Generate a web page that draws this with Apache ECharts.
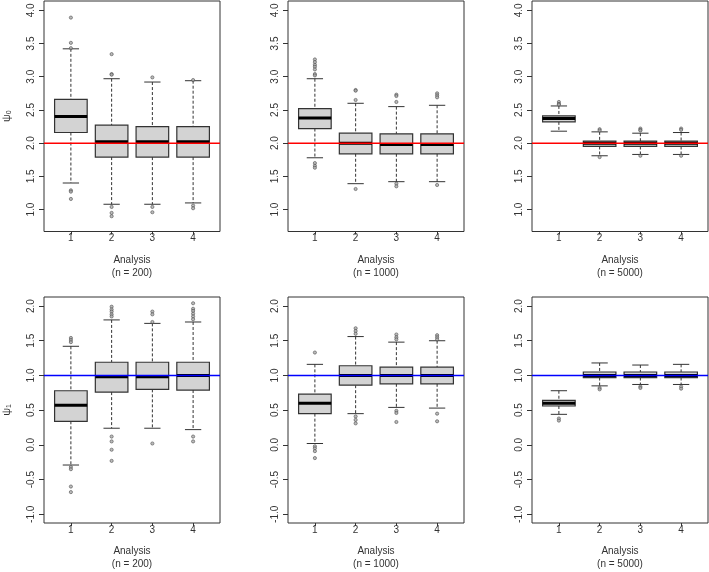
<!DOCTYPE html>
<html><head><meta charset="utf-8">
<script src="https://cdn.jsdelivr.net/npm/echarts@6/dist/echarts.min.js"></script>
<style>html,body{margin:0;padding:0;background:#fff}#c{width:709px;height:572px}</style>
</head><body><div id="c"></div>
<script>
const analyses = [1, 2, 3, 4];
const sampleSizes = [200, 1000, 5000];
const psi0Ticks = [1.0, 1.5, 2.0, 2.5, 3.0, 3.5, 4.0];
const psi1Ticks = [-1.0, -0.5, 0.0, 0.5, 1.0, 1.5, 2.0];
const psi0True = 2;
const psi1True = 1;

// each box: [lower whisker, Q1, median, Q3, upper whisker]
const psi0_n200 = [[1.40, 2.16, 2.40, 2.66, 3.42], [1.08, 1.79, 2.02, 2.27, 2.97], [1.08, 1.79, 2.02, 2.25, 2.92], [1.10, 1.79, 2.02, 2.25, 2.94]];
const psi0_n200_out = [[3.89, 3.51, 3.43, 1.29, 1.27, 1.16], [3.34, 3.04, 3.03, 1.04, 0.95, 0.90], [2.99, 1.04, 0.96], [2.95, 1.06, 1.02]];
const psi0_n1000 = [[1.78, 2.22, 2.38, 2.52, 2.97], [1.39, 1.84, 2.00, 2.15, 2.60], [1.42, 1.84, 1.98, 2.14, 2.55], [1.42, 1.84, 1.98, 2.14, 2.57]];
const psi0_n1000_out = [[3.26, 3.22, 3.18, 3.15, 3.11, 3.04, 3.02, 1.70, 1.66, 1.63], [2.80, 2.79, 2.65, 1.31], [2.73, 2.71, 2.62, 1.39, 1.35], [2.75, 2.72, 2.69, 1.37]];
const psi0_n5000 = [[2.18, 2.32, 2.37, 2.41, 2.56], [1.81, 1.95, 2.00, 2.03, 2.17], [1.83, 1.95, 2.00, 2.03, 2.15], [1.83, 1.95, 2.00, 2.03, 2.16]];
const psi0_n5000_out = [[2.62, 2.59, 2.58], [2.21, 2.19, 1.79], [2.22, 2.20, 2.19, 1.81], [2.22, 2.20, 1.81]];

const psi1_n200 = [[-0.29, 0.34, 0.57, 0.78, 1.42], [0.24, 0.76, 0.98, 1.19, 1.80], [0.24, 0.80, 0.98, 1.19, 1.75], [0.22, 0.79, 1.00, 1.19, 1.77]];
const psi1_n200_out = [[1.54, 1.51, 1.48, -0.32, -0.35, -0.60, -0.68], [1.99, 1.95, 1.92, 1.88, 1.85, 0.12, 0.05, -0.07, -0.23], [1.92, 1.88, 1.77, 0.02], [2.04, 1.96, 1.93, 1.89, 1.85, 1.81, 0.12, 0.05]];
const psi1_n1000 = [[0.02, 0.45, 0.60, 0.73, 1.16], [0.45, 0.86, 1.00, 1.14, 1.56], [0.54, 0.88, 1.00, 1.12, 1.48], [0.53, 0.88, 1.00, 1.12, 1.50]];
const psi1_n1000_out = [[1.33, -0.02, -0.05, -0.09, -0.19], [1.68, 1.64, 1.60, 0.41, 0.36, 0.31], [1.59, 1.55, 1.52, 0.49, 0.46, 0.33], [1.58, 1.55, 1.52, 0.45, 0.34]];
const psi1_n5000 = [[0.44, 0.56, 0.60, 0.64, 0.78], [0.85, 0.97, 1.00, 1.05, 1.18], [0.87, 0.97, 1.00, 1.05, 1.15], [0.87, 0.97, 1.00, 1.05, 1.16]];
const psi1_n5000_out = [[0.38, 0.35], [0.82, 0.80], [0.84, 0.82], [0.84, 0.81]];

const panels = [
  {row: 0, col: 0, boxes: psi0_n200, out: psi0_n200_out},
  {row: 0, col: 1, boxes: psi0_n1000, out: psi0_n1000_out},
  {row: 0, col: 2, boxes: psi0_n5000, out: psi0_n5000_out},
  {row: 1, col: 0, boxes: psi1_n200, out: psi1_n200_out},
  {row: 1, col: 1, boxes: psi1_n1000, out: psi1_n1000_out},
  {row: 1, col: 2, boxes: psi1_n5000, out: psi1_n5000_out}
];
const rowInfo = [
  {ticks: psi0Ticks, min: 0.67, max: 4.14, ref: psi0True, refColor: '#ff0000', sub: '0'},
  {ticks: psi1Ticks, min: -1.125, max: 2.13, ref: psi1True, refColor: '#0000ff', sub: '1'}
];
const colLeft = [44, 288, 532];
const rowTop = [1, 297];
const gw = 176, gh = 230.5;
const ink = '#333';
const fontFamily = '"Liberation Sans", Arial, sans-serif';

function renderBox(params, api) {
  const x = api.value(0);
  const lo = api.value(1), q1 = api.value(2), md = api.value(3), q3 = api.value(4), hi = api.value(5);
  const p = (a, b) => api.coord([a, b]);
  const bw = 0.4, sw = 0.2;
  const seg = (a, b, c, d, style) => {
    const s = p(a, b), e = p(c, d);
    return {type: 'line', shape: {x1: s[0], y1: s[1], x2: e[0], y2: e[1]}, style: style};
  };
  const tl = p(x - bw, q3), br = p(x + bw, q1);
  const mL = p(x - bw, md), mR = p(x + bw, md);
  return {type: 'group', children: [
    seg(x, hi, x, q3, {stroke: ink, lineWidth: 1, lineDash: [3, 2]}),
    seg(x, q1, x, lo, {stroke: ink, lineWidth: 1, lineDash: [3, 2]}),
    seg(x - sw, hi, x + sw, hi, {stroke: ink, lineWidth: 1}),
    seg(x - sw, lo, x + sw, lo, {stroke: ink, lineWidth: 1}),
    {type: 'rect', shape: {x: tl[0], y: tl[1], width: br[0] - tl[0], height: br[1] - tl[1]}, style: {fill: '#d3d3d3', stroke: ink, lineWidth: 1.2}},
    {type: 'rect', shape: {x: mL[0], y: mL[1] - 1.5, width: mR[0] - mL[0], height: 3}, style: {fill: '#000'}}
  ]};
}

function makeRefRenderer(color) {
  return function (params, api) {
    const cs = params.coordSys;
    const y = api.coord([1, api.value(1)])[1];
    return {type: 'line', shape: {x1: cs.x, y1: y, x2: cs.x + cs.width, y2: y}, style: {stroke: color, lineWidth: 1.5, fill: null}};
  };
}

const grid = [], xAxis = [], yAxis = [], series = [];
panels.forEach((pn, i) => {
  const ri = rowInfo[pn.row];
  grid.push({left: colLeft[pn.col], top: rowTop[pn.row], width: gw, height: gh, show: true, borderColor: ink, borderWidth: 1, backgroundColor: 'transparent'});
  xAxis.push({
    type: 'value', gridIndex: i, min: 0.34, max: 4.66,
    axisLine: {show: false, onZero: false}, splitLine: {show: false},
    axisTick: {show: true, length: 3, customValues: analyses, lineStyle: {color: ink}},
    axisLabel: {customValues: analyses, fontSize: 10, color: ink, margin: 2, fontFamily: fontFamily, formatter: v => String(v)},
    name: 'Analysis\n(n = ' + sampleSizes[pn.col] + ')', nameLocation: 'middle', nameGap: 22,
    nameTextStyle: {fontSize: 10, color: ink, lineHeight: 13, fontFamily: fontFamily}
  });
  const yA = {
    type: 'value', gridIndex: i, min: ri.min, max: ri.max,
    axisLine: {show: false, onZero: false}, splitLine: {show: false},
    axisTick: {show: true, length: 5, customValues: ri.ticks, lineStyle: {color: ink}},
    axisLabel: {customValues: ri.ticks, rotate: 90, fontSize: 10, color: ink, margin: 8, fontFamily: fontFamily, formatter: v => v.toFixed(1)}
  };
  if (pn.col === 0) {
    yA.name = '{p|ψ}{s|' + ri.sub + '}';
    yA.nameLocation = 'middle';
    yA.nameGap = 31;
    yA.nameTextStyle = {rich: {p: {fontSize: 11, color: ink, fontFamily: fontFamily}, s: {fontSize: 7, color: ink, verticalAlign: 'bottom', padding: [6, 0, 0, 0], fontFamily: fontFamily}}};
  }
  yAxis.push(yA);
  series.push({
    type: 'custom', xAxisIndex: i, yAxisIndex: i, renderItem: renderBox, silent: true,
    data: pn.boxes.map((b, k) => [analyses[k]].concat(b)), z: 2
  });
  const pts = [];
  pn.out.forEach((arr, k) => arr.forEach(v => pts.push([analyses[k], v])));
  series.push({
    type: 'scatter', xAxisIndex: i, yAxisIndex: i, silent: true, z: 3,
    symbol: 'circle', symbolSize: 3.2,
    itemStyle: {color: '#aaa', borderColor: '#444', borderWidth: 0.7},
    data: pts
  });
});
rowInfo.forEach((ri, r) => {
  for (let c = 0; c < 3; c++) {
    const i = r * 3 + c;
    series.push({
      type: 'custom', xAxisIndex: i, yAxisIndex: i, silent: true, zlevel: 1, z: 10,
      renderItem: makeRefRenderer(ri.refColor),
      data: [[1, ri.ref]]
    });
  }
});

const chart = echarts.init(document.getElementById('c'), null, {renderer: 'canvas'});
chart.setOption({animation: false, backgroundColor: '#fff', grid, xAxis, yAxis, series});
</script></body></html>
